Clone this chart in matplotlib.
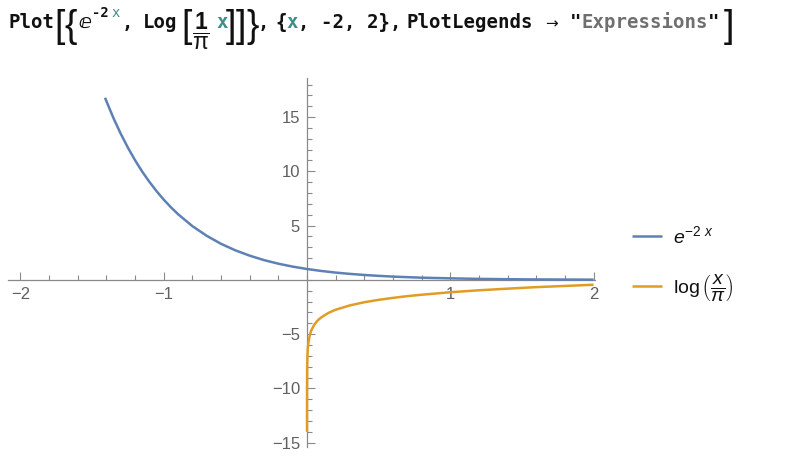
import matplotlib
matplotlib.use("Agg")
import matplotlib.pyplot as plt
from matplotlib.ticker import MultipleLocator

# values
exp_x = [-1.41, -1.35, -1.3, -1.25, -1.2, -1.15, -1.1, -1.05, -1.0, -0.95, -0.9,
         -0.8, -0.7, -0.6, -0.5, -0.4, -0.3, -0.2, -0.1, 0.0, 0.1, 0.2, 0.3,
         0.4, 0.5, 0.6, 0.8, 1.0, 1.2, 1.4, 1.6, 1.8, 2.0]
exp_y = [16.78, 14.88, 13.46, 12.18, 11.02, 9.97, 9.03, 8.17, 7.39, 6.69, 6.05,
         4.95, 4.06, 3.32, 2.72, 2.23, 1.82, 1.49, 1.22, 1.0, 0.82, 0.67, 0.55,
         0.45, 0.37, 0.30, 0.20, 0.14, 0.09, 0.06, 0.04, 0.03, 0.02]

log_x = [0.0000026, 0.00001, 0.0001, 0.001, 0.003, 0.006, 0.01, 0.02, 0.03,
         0.05, 0.075, 0.1, 0.15, 0.2, 0.3, 0.4, 0.5, 0.6, 0.7, 0.8, 1.0, 1.2,
         1.4, 1.6, 1.8, 2.0]
log_y = [-14.0, -12.66, -10.36, -8.05, -6.95, -6.26, -5.75, -5.06, -4.65,
         -4.14, -3.73, -3.45, -3.04, -2.75, -2.35, -2.06, -1.84, -1.66, -1.50,
         -1.37, -1.14, -0.96, -0.81, -0.67, -0.56, -0.45]

labels = [r"$e^{-2\ x}$", r"$\log\left(\dfrac{x}{\pi}\right)$"]
colors = ["#5E81B5", "#E19C24"]

plt.rcParams["font.family"] = ["Liberation Sans", "DejaVu Sans"]
plt.rcParams["mathtext.fontset"] = "custom"
plt.rcParams["mathtext.rm"] = "Liberation Sans"
plt.rcParams["mathtext.it"] = "Liberation Sans:italic"
plt.rcParams["mathtext.bf"] = "Liberation Sans:bold"

W, H = 807, 458
fig = plt.figure(figsize=(W / 100, H / 100), dpi=100)

# axes box in pixels: left 8, right 595, top 78, bottom 447
ax = fig.add_axes([8 / W, 1 - 447 / H, 587 / W, 369 / H])
ax.set_xlim(-2.087, 2.01)
ax.set_ylim(-15.4, 18.6)

l1, = ax.plot(exp_x, exp_y, color=colors[0], lw=1.8, solid_capstyle="butt")
l2, = ax.plot(log_x, log_y, color=colors[1], lw=1.8, solid_capstyle="butt")

for s in ["top", "right"]:
    ax.spines[s].set_visible(False)
ax.spines["left"].set_position(("data", 0))
ax.spines["bottom"].set_position(("data", 0))
for s in ["left", "bottom"]:
    ax.spines[s].set_color("#8a8a8a")
    ax.spines[s].set_linewidth(0.9)
    ax.spines[s].set_zorder(0)

ax.xaxis.set_minor_locator(MultipleLocator(0.2))
ax.yaxis.set_minor_locator(MultipleLocator(1))
ax.set_xticks([-2, -1, 1, 2])
ax.set_yticks([-15, -10, -5, 5, 10, 15])
ax.set_xticklabels(["\u22122", "\u22121", "1", "2"])
ax.set_yticklabels(["\u221215", "\u221210", "\u22125", "5", "10", "15"])
ax.tick_params(which="both", direction="in", color="#8a8a8a", width=0.8,
               labelcolor="#606060", labelsize=12)
ax.tick_params(which="major", length=6, pad=5)
ax.tick_params(which="minor", length=3.5)
ax.set_facecolor("none")

leg = ax.legend([l1, l2], labels, loc="center left",
                bbox_to_anchor=(632 / W, 1 - 264 / H), bbox_transform=fig.transFigure,
                frameon=False, fontsize=14, handlelength=1.55, handletextpad=0.55,
                labelspacing=1.25, borderpad=0, borderaxespad=0)
for t in leg.get_texts():
    t.set_color("#111111")

# input cell text
fs = 13.7
base = 1 - 28 / H
mono = ["DejaVu Sans Mono", "DejaVu Sans"]
teal = "#438C8C"
gray = "#6f6f6f"
cw = 11.5  # character advance in pixels


def put(s, xpx, color="#111111", y=base, size=fs, weight="bold", fam=mono):
    fig.text(xpx / W, y, s, color=color, fontsize=size, fontweight=weight,
             family=fam, va="baseline", ha="left")


def bracket(s, xpx):
    fig.text(xpx / W, 1 - 27 / H, s, color="#111111", fontsize=27,
             family=["Liberation Sans"], va="center", ha="left")


put("Plot", 8)
bracket("[", 54)
bracket("{", 64)
put("\u2147", 78)
put("-2", 92, y=1 - 17 / H, size=10)
put("x", 111, color=teal, y=1 - 17 / H, size=10, weight="normal")
put(",", 122)
put("Log", 143)
bracket("[", 181)
frac = "$\\dfrac{\\mathbf{1}}{\\mathrm{\u03c0}}$"
fig.text(192 / W, 1 - 31 / H, frac, color="#111111",
         fontsize=16.5, va="center", ha="left")
put("x", 216, color=teal)
bracket("]", 226)
bracket("]", 236)
bracket("}", 246)
put(",", 258)
put("{", 275)
put("x", 275 + cw, color=teal)
put(", -2, 2},", 275 + 2 * cw)
put("PlotLegends", 407)
put("\u2192", 545, weight="normal", fam=["DejaVu Sans"], size=11)
put('"', 570)
put("Expressions", 570 + cw, color=gray)
put('"', 570 + 12 * cw)
bracket("]", 724)

fig.savefig("out.png", dpi=100)
